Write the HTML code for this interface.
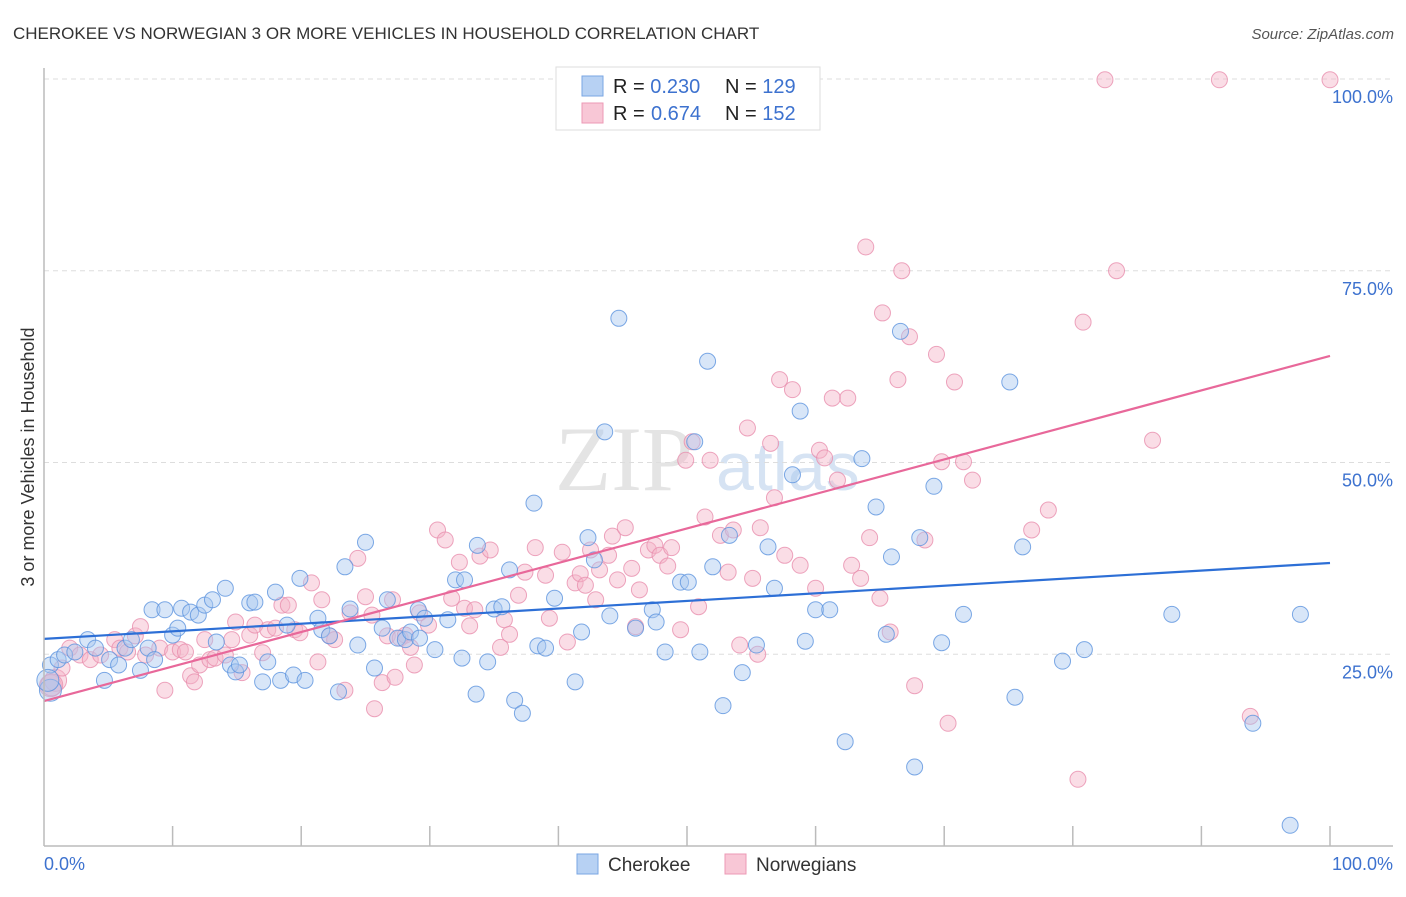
<!DOCTYPE html>
<html><head><meta charset="utf-8"><style>
body{margin:0;background:#fff;width:1406px;height:892px;overflow:hidden;font-family:"Liberation Sans",sans-serif}
</style></head><body>
<svg id="chart" width="1406" height="892" xmlns="http://www.w3.org/2000/svg">
<text x="13" y="39" font-size="17" fill="#333">CHEROKEE VS NORWEGIAN 3 OR MORE VEHICLES IN HOUSEHOLD CORRELATION CHART</text>
<text x="1394" y="39" font-size="15" fill="#555" font-style="italic" text-anchor="end">Source: ZipAtlas.com</text>
<text x="0" y="0" transform="translate(34,457) rotate(-90)" font-size="18" fill="#333" text-anchor="middle">3 or more Vehicles in Household</text>
<g><text x="555" y="490" font-size="92" font-family="Liberation Serif,serif" fill="#e4e4e4">ZIP</text><text x="716" y="490" font-size="68" fill="#d6e3f3">atlas</text></g>
<g id="grid"></g><g id="pts"></g><g id="lines"></g>
<line x1="44" y1="68" x2="44" y2="846" stroke="#bbb" stroke-width="1.5"/>
<line x1="44" y1="846" x2="1393" y2="846" stroke="#bbb" stroke-width="1.5"/>
<text x="44" y="870" font-size="18" fill="#3d72cf">0.0%</text>
<text x="1393" y="870" font-size="18" fill="#3d72cf" text-anchor="end">100.0%</text>
<g>
<rect x="556" y="67" width="264" height="63" fill="#fff" stroke="#ddd"/>
<rect x="582" y="76" width="21" height="20" fill="#b7d1f3" stroke="#7aa6e3"/>
<rect x="582" y="103" width="21" height="20" fill="#f8c7d6" stroke="#ec9ab5"/>
<text x="613" y="93" font-size="20" fill="#222">R = <tspan fill="#3d72cf">0.230</tspan><tspan x="725">N = </tspan><tspan fill="#3d72cf">129</tspan></text>
<text x="613" y="120" font-size="20" fill="#222">R = <tspan fill="#3d72cf" x="651">0.674</tspan><tspan x="725">N = </tspan><tspan fill="#3d72cf">152</tspan></text>
</g>
<g>
<rect x="577" y="854" width="21" height="20" fill="#b7d1f3" stroke="#7aa6e3"/>
<text x="608" y="871" font-size="19" fill="#333">Cherokee</text>
<rect x="725" y="854" width="21" height="20" fill="#f8c7d6" stroke="#ec9ab5"/>
<text x="756" y="871" font-size="19" fill="#333">Norwegians</text>
</g>
</svg>
<script>
const yTicks=[25,50,75,100];
const yTickLabels=["25.0%","50.0%","75.0%","100.0%"];
const xTicks=[10,20,30,40,50,60,70,80,90,100];
const cherokeeX=[0.5,1.1,1.6,2.4,3.4,4.0,4.7,5.1,5.8,6.3,6.8,7.5,8.1,8.6,8.4,9.4,10.0,10.4,10.7,11.4,12.0,12.5,13.1,13.4,14.1,14.5,14.9,15.2,16.0,16.4,17.0,17.4,18.0,18.4,18.9,19.4,19.9,20.3,21.3,21.6,22.2,22.9,23.4,23.8,24.4,25.0,25.7,26.3,26.7,27.5,28.1,28.5,29.1,29.2,29.6,30.4,31.4,32.0,32.5,32.7,33.6,33.7,34.5,35.0,35.6,36.2,36.6,37.2,38.1,38.4,39.0,39.7,41.3,41.8,42.3,42.8,43.6,44.0,44.7,46.0,47.3,47.6,48.3,49.5,50.1,51.0,51.6,52.0,52.8,53.3,54.3,55.4,56.3,56.8,58.2,58.8,59.2,60.0,61.1,62.3,63.6,64.7,65.5,65.9,66.6,67.7,68.1,69.2,69.8,71.5,75.1,75.5,76.1,79.2,80.9,87.7,94.0,96.9,97.7,0.5,0.3,50.6];
const cherokeeY=[23.6,24.3,24.9,25.3,26.9,25.8,21.6,24.3,23.6,25.8,26.9,22.9,25.8,24.3,30.8,30.8,27.5,28.4,31.0,30.5,30.1,31.4,32.1,26.6,33.6,23.6,22.7,23.6,31.7,31.8,21.4,24.0,33.1,21.6,28.8,22.3,34.9,21.6,29.7,28.2,27.4,20.1,36.4,30.9,26.2,39.6,23.2,28.4,32.1,27.1,26.9,27.9,30.8,27.1,29.7,25.6,29.5,34.7,24.5,34.7,19.8,39.2,24.0,30.9,31.2,36.0,19.0,17.3,44.7,26.1,25.8,32.3,21.4,27.9,40.2,37.3,54.0,30.0,68.8,28.4,30.8,29.2,25.3,34.4,34.4,25.3,63.2,36.4,18.3,40.5,22.6,26.2,39.0,33.6,48.4,56.7,26.7,30.8,30.8,13.6,50.5,44.2,27.6,37.7,67.1,10.3,40.2,46.9,26.5,30.2,60.5,19.4,39.0,24.1,25.6,30.2,16.0,2.7,30.2,20.3,21.6,52.7];
const norwegianX=[0.5,0.9,1.4,2.0,2.8,3.6,4.4,5.5,5.9,6.5,7.1,7.5,7.9,9.0,9.4,10.0,10.6,11.0,11.4,11.7,12.1,12.5,12.9,13.3,14.1,14.6,14.9,15.4,16.0,16.4,17.0,17.4,18.0,18.5,19.0,19.5,19.9,20.8,21.3,21.6,22.2,22.6,23.4,23.8,24.4,25.0,25.5,25.7,26.3,26.7,27.1,27.3,27.7,28.1,28.5,28.8,29.2,29.9,30.6,31.2,31.7,32.3,32.7,33.1,33.5,33.9,34.7,35.5,35.8,36.2,36.9,37.4,38.2,39.0,39.3,40.3,40.7,41.3,41.7,42.1,42.5,42.9,43.2,43.9,44.2,44.6,45.2,45.7,46.0,46.3,47.0,47.5,47.9,48.5,48.8,49.5,49.9,50.4,50.9,51.4,51.8,52.6,53.2,53.6,54.1,54.7,55.1,55.5,55.7,56.5,56.8,57.2,57.6,58.2,58.8,60.0,60.3,60.7,61.3,61.7,62.5,62.8,63.5,63.9,64.2,65.0,65.2,65.8,66.4,66.7,67.3,67.7,68.5,69.4,69.8,70.3,70.8,71.5,72.2,76.8,78.1,80.4,80.8,82.5,83.4,86.2,91.4,93.8,100,0.6];
const norwegianY=[20.9,21.6,23.2,25.8,24.9,24.3,24.9,26.9,25.8,25.3,27.4,28.6,24.9,25.8,20.3,25.3,25.6,25.3,22.2,21.4,23.6,26.9,24.3,24.5,24.9,26.9,29.2,22.6,27.5,28.8,25.2,28.2,28.4,31.4,31.4,28.2,27.8,34.3,24.0,32.1,27.4,26.9,20.3,30.4,37.5,32.5,30.1,17.9,21.3,27.4,32.1,22.0,27.1,27.5,25.9,23.6,30.4,28.8,41.2,39.9,32.3,37.0,31.0,28.7,30.8,37.8,38.6,25.9,29.5,27.6,32.7,35.7,38.9,35.3,29.7,38.3,26.6,34.3,35.5,34.0,38.6,32.1,36.0,37.9,40.4,34.7,41.5,36.2,28.6,33.4,38.6,39.2,37.9,36.5,38.9,28.2,50.3,52.7,31.2,42.9,50.3,40.5,35.7,41.2,26.2,54.5,34.9,25.0,41.5,52.5,45.4,60.8,37.9,59.5,36.6,33.6,51.6,50.6,58.4,47.7,58.4,36.6,34.9,78.1,40.2,32.3,69.5,27.9,60.8,75.0,66.4,20.9,39.9,64.1,50.1,16.0,60.5,50.1,47.7,41.2,43.8,8.7,68.3,99.9,75.0,52.9,99.9,16.9,99.9,21.0];
const cherokeeTrend=[27.0,36.9];
const norwegianTrend=[18.9,63.9];
const NS="http://www.w3.org/2000/svg";
const X0=44,X1=1330,Y0=846,Y1=79;
const xs=v=>X0+(X1-X0)*v/100, ys=v=>Y0-(Y0-Y1)*v/100;
function mk(t,a,p){const e=document.createElementNS(NS,t);for(const k in a)e.setAttribute(k,a[k]);document.getElementById(p).appendChild(e);return e;}
yTicks.forEach((v,i)=>{
 const l=mk('line',{x1:X0,x2:1393,y1:ys(v),y2:ys(v),stroke:'#ddd','stroke-dasharray':'5,4'},'grid');
 
 
 const t=mk('text',{x:1393,y:ys(v)+24,'font-size':18,fill:'#3d72cf','text-anchor':'end'},'grid');
 t.textContent=yTickLabels[i];
 
 
});
xTicks.forEach(v=>{
 const l=mk('line',{x1:xs(v),x2:xs(v),y1:826,y2:846,stroke:'#bbb','stroke-width':1.5},'grid');
 
 
});
function pts(X,Y,fill,stroke,name){
 X.forEach((x,i)=>{
  const big=(x<1.2&&Y[i]<22);
  const c=mk('circle',{cx:xs(x),cy:ys(Y[i]),r:big?11:8,fill:fill,'fill-opacity':0.45,stroke:stroke,'stroke-opacity':0.8,'stroke-width':1},'pts');
  
  
 });
}
pts(norwegianX,norwegianY,'#f5b3c8','#e98fae','norwegian-point');
pts(cherokeeX,cherokeeY,'#a8c7f0','#5d93de','cherokee-point');
const l1=mk('line',{x1:xs(0),y1:ys(cherokeeTrend[0]),x2:xs(100),y2:ys(cherokeeTrend[1]),stroke:'#2d6fd6','stroke-width':2.2},'lines');


const l2=mk('line',{x1:xs(0),y1:ys(norwegianTrend[0]),x2:xs(100),y2:ys(norwegianTrend[1]),stroke:'#e8689a','stroke-width':2.2},'lines');


</script>
</body></html>
